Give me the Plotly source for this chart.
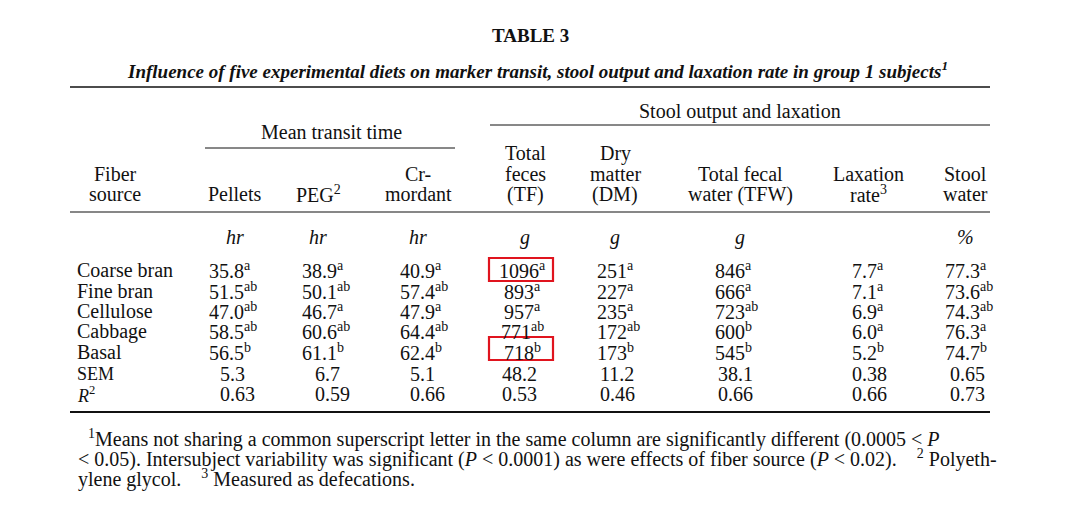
import plotly.graph_objects as go

title = "TABLE 3"
subtitle = "Influence of five experimental diets on marker transit, stool output and laxation rate in group 1 subjects<sup>1</sup>"
fibers = ["Coarse bran", "Fine bran", "Cellulose", "Cabbage", "Basal", "SEM", "<i>R</i><sup>2</sup>"]
pellets = ["35.8<sup>a</sup>", "51.5<sup>ab</sup>", "47.0<sup>ab</sup>", "58.5<sup>ab</sup>", "56.5<sup>b</sup>", "5.3", "0.63"]
peg = ["38.9<sup>a</sup>", "50.1<sup>ab</sup>", "46.7<sup>a</sup>", "60.6<sup>ab</sup>", "61.1<sup>b</sup>", "6.7", "0.59"]
crm = ["40.9<sup>a</sup>", "57.4<sup>ab</sup>", "47.9<sup>a</sup>", "64.4<sup>ab</sup>", "62.4<sup>b</sup>", "5.1", "0.66"]
tf = ["1096<sup>a</sup>", "893<sup>a</sup>", "957<sup>a</sup>", "771<sup>ab</sup>", "718<sup>b</sup>", "48.2", "0.53"]
dm = ["251<sup>a</sup>", "227<sup>a</sup>", "235<sup>a</sup>", "172<sup>ab</sup>", "173<sup>b</sup>", "11.2", "0.46"]
tfw = ["846<sup>a</sup>", "666<sup>a</sup>", "723<sup>ab</sup>", "600<sup>b</sup>", "545<sup>b</sup>", "38.1", "0.66"]
lax = ["7.7<sup>a</sup>", "7.1<sup>a</sup>", "6.9<sup>a</sup>", "6.0<sup>a</sup>", "5.2<sup>b</sup>", "0.38", "0.66"]
stool = ["77.3<sup>a</sup>", "73.6<sup>ab</sup>", "74.3<sup>ab</sup>", "76.3<sup>a</sup>", "74.7<sup>b</sup>", "0.65", "0.73"]
headers = [["Fiber", "source"], ["Pellets"], ["PEG<sup>2</sup>"], ["Cr-", "mordant"], ["Total", "feces", "(TF)"],
           ["Dry", "matter", "(DM)"], ["Total fecal", "water (TFW)"], ["Laxation", "rate<sup>3</sup>"], ["Stool", "water"]]
units = ["", "hr", "hr", "hr", "g", "g", "g", "", "%"]
group_heads = ["Mean transit time", "Stool output and laxation"]
footnotes = [
    "<sup>1</sup>Means not sharing a common superscript letter in the same column are significantly different (0.0005 < <i>P</i>",
    "< 0.05). Intersubject variability was significant (<i>P</i> < 0.0001) as were effects of fiber source (<i>P</i> < 0.02).    <sup>2</sup> Polyeth-",
    "ylene glycol.    <sup>3</sup> Measured as defecations.",
]

FONT = "Liberation Serif, Times New Roman, serif"
fig = go.Figure()
ann = []
def t(x, y, s, anchor="center", size=20):
    ann.append(dict(x=x, y=y, text=s, showarrow=False, xanchor=anchor, yanchor="middle",
                    font=dict(family=FONT, size=size, color="#111")))

t(530, 35, "<b>" + title + "</b>", size=19)
t(537, 70, "<b><i>" + subtitle + "</i></b>", size=19)
t(740, 111, group_heads[1])
t(331, 132, group_heads[0])

col_centers = [115, 235, 318, 418, 525, 615, 740, 868, 965]
for cx, h in zip(col_centers, headers):
    n = len(h)
    for i, line in enumerate(h):
        t(cx, 194 - (n - 1 - i) * 20.5, line)
for cx, u in zip(col_centers, units):
    if u:
        t(cx, 237, "<i>" + u + "</i>")

row_y = [270, 291, 311, 331, 352, 374, 394]
for i, f in enumerate(fibers):
    t(75, row_y[i], f, anchor="left", size=20 if i < 5 else 18)

cols = [pellets, peg, crm, tf, dm, tfw, lax, stool]
lefts = [207, 300, 398, None, 595, 713, 850, 943]
stat_lefts = [218, 313, 408, 500, 598, 716, 850, 948]
for c, lx, sx in zip(cols, lefts, stat_lefts):
    for i, v in enumerate(c):
        if i < 5:
            if lx is None:
                t(522, row_y[i], v)
            else:
                t(lx, row_y[i], v, anchor="left")
        else:
            t(sx, row_y[i], v, anchor="left")

for i, s in enumerate(footnotes):
    t(86 if i == 0 else 76, 438 + i * 20, s, anchor="left", size=20)
fig.update_layout(annotations=ann)

lines = [(70, 990, 87, 1.6), (490, 990, 125, 1), (205, 455, 148, 1), (70, 990, 212, 1.2), (70, 990, 412, 2)]
for x0, x1, y, w in lines:
    fig.add_shape(type="line", x0=x0, x1=x1, y0=y, y1=y, line=dict(color="#111", width=w))
for y0, y1 in [(258, 281), (337, 360)]:
    fig.add_shape(type="rect", x0=489, x1=553, y0=y0, y1=y1, line=dict(color="#e0141e", width=2.2))

fig.update_layout(width=1080, height=532, margin=dict(l=0, r=0, t=0, b=0),
                  paper_bgcolor="white", plot_bgcolor="white", showlegend=False,
                  xaxis=dict(range=[8, 1088], visible=False),
                  yaxis=dict(range=[540, 8], visible=False))
fig.write_html("out.html")
